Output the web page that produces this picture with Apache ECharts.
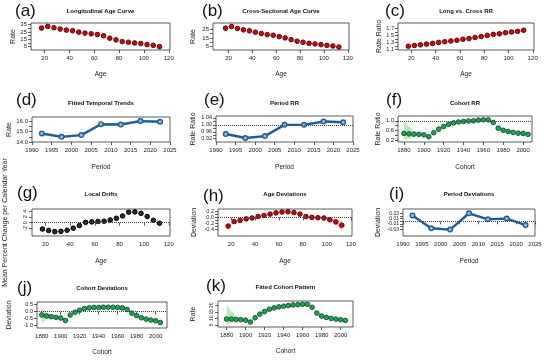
<!DOCTYPE html>
<html><head><meta charset="utf-8">
<script src="https://cdn.jsdelivr.net/npm/echarts@6/dist/echarts.min.js"></script>
<style>html,body{margin:0;padding:0;background:#fff}#c{width:550px;height:360px}</style>
</head><body><div id="c"></div>
<script>
// ---------- data ----------
const ageGroups = [17.5,22.5,27.5,32.5,37.5,42.5,47.5,52.5,57.5,62.5,67.5,72.5,77.5,82.5,87.5,92.5,97.5,102.5,107.5,112.5];
const periodMid = [1992.5,1997.5,2002.5,2007.5,2012.5,2017.5,2022.5];
const cohortMid = [1880,1885,1890,1895,1900,1905,1910,1915,1920,1925,1930,1935,1940,1945,1950,1955,1960,1965,1970,1975,1980,1985,1990,1995,2000,2005];

const ageTicks = [20,40,60,80,100,120];
const periodTicks = [1990,1995,2000,2005,2010,2015,2020,2025];
const cohortTicks = [1880,1900,1920,1940,1960,1980,2000];

const longAgeRate = [30.4,32.7,30.8,29.0,27.6,26.7,24.8,23.5,22.5,21.6,19.8,16.5,14.2,11.9,11.0,10.0,9.2,7.8,6.8,5.0];
const crossAgeRate = [26.1,28.0,25.8,24.2,23.1,21.5,20.0,18.8,18.0,16.5,15.0,13.0,11.2,10.0,8.8,8.1,7.3,6.5,5.8,4.6];
const longCrossRR = [1.19,1.21,1.23,1.25,1.27,1.30,1.32,1.34,1.36,1.39,1.41,1.44,1.47,1.50,1.53,1.55,1.58,1.60,1.62,1.65];
const longCrossLo = [1.175,1.195,1.215,1.235,1.255,1.284,1.303,1.322,1.341,1.37,1.389,1.417,1.445,1.473,1.50,1.517,1.544,1.56,1.575,1.60];
const longCrossHi = [1.205,1.225,1.245,1.265,1.285,1.316,1.337,1.358,1.379,1.41,1.431,1.463,1.495,1.527,1.56,1.583,1.616,1.64,1.665,1.70];

const fittedTrend = [14.83,14.50,14.67,15.73,15.70,16.03,15.97];
const fittedTrendLo = [14.70,14.38,14.55,15.60,15.57,15.90,15.84];
const fittedTrendHi = [14.96,14.62,14.79,15.86,15.83,16.16,16.10];

const periodRR = [0.947,0.924,0.935,1.000,1.000,1.019,1.015];
const periodRRLo = [0.940,0.917,0.928,0.995,0.994,1.012,1.008];
const periodRRHi = [0.954,0.931,0.942,1.005,1.006,1.026,1.022];

const cohortRR = [0.47,0.45,0.44,0.43,0.41,0.33,0.50,0.65,0.76,0.85,0.91,0.95,0.97,0.99,1.00,1.03,1.04,1.04,0.93,0.69,0.60,0.55,0.51,0.48,0.47,0.43];
const cohortRRLo = [0.18,0.27,0.34,0.38,0.38,0.31,0.48,0.63,0.74,0.83,0.89,0.93,0.95,0.97,0.98,1.01,1.02,1.02,0.91,0.67,0.58,0.53,0.49,0.46,0.45,0.41];
const cohortRRHi = [1.02,0.76,0.58,0.49,0.45,0.35,0.52,0.67,0.78,0.87,0.93,0.97,0.99,1.01,1.02,1.05,1.06,1.06,0.95,0.71,0.62,0.57,0.53,0.50,0.49,0.45];

const localDrifts = [-2.2,-2.7,-3.1,-3.0,-2.6,-1.9,-1.0,0.1,0.25,0.4,0.5,0.9,1.5,2.3,3.6,3.7,3.2,2.1,0.8,-0.2];

const ageDev = [-0.29,-0.14,-0.10,-0.05,-0.02,0.03,0.065,0.11,0.15,0.18,0.19,0.16,0.11,0.03,0.0,-0.01,-0.02,-0.08,-0.15,-0.26];
const ageDevLo = [-0.32,-0.16,-0.115,-0.06,-0.03,0.02,0.055,0.10,0.14,0.17,0.18,0.15,0.10,0.02,-0.01,-0.025,-0.04,-0.12,-0.23,-0.45];
const ageDevHi = [-0.26,-0.12,-0.085,-0.04,-0.01,0.04,0.075,0.12,0.16,0.19,0.20,0.17,0.12,0.04,0.01,0.005,0.0,-0.04,-0.07,-0.10];

const periodDev = [0.022,-0.026,-0.031,0.030,0.0075,0.010,-0.014];
const periodDevLo = [0.018,-0.030,-0.035,0.026,0.0035,0.006,-0.018];
const periodDevHi = [0.026,-0.022,-0.027,0.034,0.0115,0.014,-0.010];

const cohortDev = [-0.25,-0.32,-0.37,-0.42,-0.47,-0.65,-0.25,-0.05,0.10,0.22,0.27,0.30,0.30,0.32,0.32,0.32,0.30,0.27,0.15,-0.12,-0.30,-0.45,-0.55,-0.62,-0.67,-0.80];
const cohortDevLo = [-0.85,-0.60,-0.50,-0.47,-0.50,-0.68,-0.28,-0.08,0.07,0.19,0.24,0.27,0.27,0.29,0.29,0.29,0.27,0.24,0.12,-0.15,-0.33,-0.48,-0.58,-0.65,-0.70,-0.84];
const cohortDevHi = [0.30,-0.05,-0.25,-0.37,-0.44,-0.62,-0.22,-0.02,0.13,0.25,0.30,0.33,0.33,0.35,0.35,0.35,0.33,0.30,0.18,-0.09,-0.27,-0.42,-0.52,-0.59,-0.64,-0.76];

const fittedCohort = [9.4,9.4,9.1,8.9,8.6,7.1,10.4,13.2,15.2,17.0,18.0,18.8,19.3,19.8,20.3,20.5,20.8,20.8,18.5,14.0,11.7,10.7,9.9,9.4,8.9,8.4];
const fittedCohortLo = [5.0,6.5,7.8,8.4,8.3,6.9,10.2,13.0,15.0,16.8,17.8,18.6,19.1,19.6,20.1,20.3,20.6,20.6,18.3,13.8,11.5,10.5,9.7,9.2,8.7,8.2];
const fittedCohortHi = [20.5,15.5,11.5,9.8,8.9,7.3,10.6,13.4,15.4,17.2,18.2,19.0,19.5,20.0,20.5,20.7,21.0,21.0,18.7,14.2,11.9,10.9,10.1,9.6,9.1,8.6];

// ---------- helpers ----------
const FONT = '"Liberation Sans", Arial, sans-serif';
const TXT = '#222';
const grids = [], xAxes = [], yAxes = [], series = [], titles = [], graphics = [];

const RED = {fill:'#b5121b', border:'#6b0000', band:'rgba(240,120,145,0.45)'};
const BLUE = {fill:'#8dbbe3', border:'#1f5f94', band:'rgba(120,170,225,0.45)'};
const GREEN = {fill:'#2a9d5a', border:'#0b5e2e', band:'rgba(150,215,140,0.6)'};
const BLACK = {fill:'#2a2a2a', border:'#000'};

function band(i, xs, lo, hi, color) {
  series.push({
    type:'custom', xAxisIndex:i, yAxisIndex:i, silent:true, z:1, clip:true,
    data: xs.map((x, k) => [x, lo[k], hi[k]]),
    encode:{x:0, y:[1,2]},
    renderItem: (params, api) => {
      if (params.dataIndex !== 0) return null;
      const top = [], bot = [];
      for (let k = 0; k < xs.length; k++) {
        top.push(api.coord([xs[k], hi[k]]));
        bot.push(api.coord([xs[k], lo[k]]));
      }
      return {type:'polygon', shape:{points: top.concat(bot.reverse())}, style:{fill:color}};
    }
  });
}

function panel(p) {
  const i = grids.length;
  const [L, T, W, H] = p.box;
  grids.push({left:L, top:T, width:W, height:H, show:true, borderColor:'#333', borderWidth:0.8,
    backgroundColor:'transparent', outerBoundsMode:'none'});
  xAxes.push({gridIndex:i, type:'value', min:p.x[0], max:p.x[1],
    axisLine:{show:false}, splitLine:{show:false},
    axisTick:{show:true, length:3, lineStyle:{color:'#333', width:0.8}, customValues:p.xt},
    axisLabel:{customValues:p.xt, fontSize:6, color:TXT, margin:5, fontFamily:FONT, hideOverlap:false,
      formatter:(v) => String(v)},
    name:p.xname, nameLocation:'middle', nameGap:p.xgap || 21,
    nameTextStyle:{fontSize:6.5, color:TXT, fontFamily:FONT}});
  yAxes.push({gridIndex:i, type:'value', min:p.y[0], max:p.y[1],
    axisLine:{show:false}, splitLine:{show:false},
    axisTick:{show:true, length:3, lineStyle:{color:'#333', width:0.8}, customValues:p.yticks},
    axisLabel:{customValues:p.ylabels, fontSize:p.ylabSize || 6, color:TXT, margin:4, fontFamily:FONT,
      hideOverlap:false, rotate:p.yrot || 0, formatter:(v) => p.fmt(v)},
    name:p.yname, nameLocation:'middle', nameGap:p.ygap, nameRotate:90,
    nameTextStyle:{fontSize:p.ynameSize || 7, color:TXT, fontFamily:FONT}});
  titles.push({text:p.title, left:L + W / 2, top:p.titleTop, textAlign:'center', padding:0,
    textStyle:{fontSize:6, fontWeight:'bold', color:'#111', fontFamily:FONT}});
  graphics.push({type:'text', left:p.letter[0], top:p.letter[1],
    style:{text:p.letterText, fontSize:17, fill:'#111', fontFamily:FONT}});
  return i;
}

function refMark(v) {
  return {silent:true, symbol:'none', label:{show:false}, animation:false,
    lineStyle:{type:'dotted', color:'#444', width:1}, data:[{yAxis:v}]};
}
function points(i, xs, ys, col, refLine) {
  const s = {type:'scatter', xAxisIndex:i, yAxisIndex:i, z:3, symbol:'circle', symbolSize:4.6,
    data: xs.map((x, k) => [x, ys[k]]),
    itemStyle:{color:col.fill, borderColor:col.border, borderWidth:1, opacity:1}};
  if (refLine !== undefined) s.markLine = refMark(refLine);
  series.push(s);
}
function linePts(i, xs, ys, col, refLine) {
  const s = {type:'line', xAxisIndex:i, yAxisIndex:i, z:3, symbol:'circle', symbolSize:4.6, showSymbol:true,
    data: xs.map((x, k) => [x, ys[k]]),
    lineStyle:{color:col.border, width:2.4},
    itemStyle:{color:col.fill, borderColor:col.border, borderWidth:1.4}};
  if (refLine !== undefined) s.markLine = refMark(refLine);
  series.push(s);
}
const f0 = v => String(v), f1 = v => v.toFixed(1), f2 = v => v.toFixed(2);

// ---------- panels ----------
let i;
// (a)
i = panel({box:[31,23,139,27], x:[9,121], xt:ageTicks, y:[0.4,37.3], yticks:[5,10,15,20,25,30,35], ylabels:[5,15,25,35],
  fmt:f0, yname:'Rate', ygap:14, xname:'Age', xgap:21, title:'Longitudinal Age Curve', titleTop:8, letter:[15,3], letterText:'(a)'});
points(i, ageGroups, longAgeRate, RED);
// (b)
i = panel({box:[213,23,136,27], x:[7,121], xt:ageTicks, y:[1.2,32], yticks:[5,10,15,20,25], ylabels:[5,15,25],
  fmt:f0, yname:'Rate', ygap:16, xname:'Age', xgap:21, title:'Cross-Sectional Age Curve', titleTop:8, letter:[202,3], letterText:'(b)'});
points(i, ageGroups, crossAgeRate, RED);
// (c)
i = panel({box:[398,23,136,27], x:[9,121], xt:ageTicks, y:[1.08,1.86], yticks:[1.1,1.2,1.3,1.4,1.5,1.6,1.7], ylabels:[1.1,1.3,1.5,1.7],
  fmt:f1, ylabSize:5.5, yname:'Rate Ratio', ygap:15, xname:'Age', xgap:21, title:'Long vs. Cross RR', titleTop:8, letter:[385,3], letterText:'(c)'});
band(i, ageGroups, longCrossLo, longCrossHi, RED.band);
points(i, ageGroups, longCrossRR, RED);
// (d)
i = panel({box:[32,117,138,25], x:[1990,2025], xt:periodTicks, y:[14.0,16.43], yticks:[14.0,14.5,15.0,15.5,16.0], ylabels:[14.0,15.0,16.0],
  fmt:f1, yname:'Rate', ygap:19, xname:'Period', xgap:22, title:'Fitted Temporal Trends', titleTop:100, letter:[16,92], letterText:'(d)'});
band(i, periodMid, fittedTrendLo, fittedTrendHi, BLUE.band);
linePts(i, periodMid, fittedTrend, BLUE);
// (e)
i = panel({box:[216,116,137,26], x:[1990,2025], xt:periodTicks, y:[0.901,1.051], yticks:[0.92,0.94,0.96,0.98,1.00,1.02,1.04], ylabels:[0.92,0.96,1.00,1.04],
  fmt:f2, ylabSize:5.5, yname:'Rate Ratio', ygap:19, xname:'Period', xgap:22, title:'Period RR', titleTop:100, letter:[204,92], letterText:'(e)'});
band(i, periodMid, periodRRLo, periodRRHi, BLUE.band);
linePts(i, periodMid, periodRR, BLUE, 1.0);
// (f)
i = panel({box:[398,116,134,26], x:[1874,2009], xt:cohortTicks, y:[0.11,1.2], yticks:[0.2,0.4,0.6,0.8,1.0], ylabels:[0.2,0.6,1.0],
  fmt:f1, yname:'Rate Ratio', ygap:15, xname:'Cohort', xgap:22, title:'Cohort RR', titleTop:100, letter:[386,92], letterText:'(f)'});
band(i, cohortMid, cohortRRLo, cohortRRHi, GREEN.band);
points(i, cohortMid, cohortRR, GREEN, 1.0);
// (g)
i = panel({box:[32,209,138,27], x:[9,121], xt:ageTicks, y:[-4.6,4.7], yticks:[-2,0,2,4], ylabels:[-2,0,2,4], yrot:90,
  fmt:f0, ylabSize:5.5, yname:'Mean Percent Change per Calendar Year', ynameSize:7, ygap:23, xname:'Age', xgap:22,
  title:'Local Drifts', titleTop:191, letter:[17,185], letterText:'(g)'});
points(i, ageGroups, localDrifts, BLACK, 0);
// (h)
i = panel({box:[218,209,134,27], x:[9,121], xt:ageTicks, y:[-0.62,0.28], yticks:[-0.4,-0.3,-0.2,-0.1,0.0,0.1,0.2], ylabels:[-0.4,-0.2,0.0,0.2],
  fmt:f1, ylabSize:5.5, yname:'Deviation', ygap:20, xname:'Age', xgap:22, title:'Age Deviations', titleTop:191, letter:[203,188], letterText:'(h)'});
band(i, ageGroups, ageDevLo, ageDevHi, RED.band);
points(i, ageGroups, ageDev, RED, 0);
// (i)
i = panel({box:[403,209,132,27], x:[1990,2025], xt:periodTicks, y:[-0.055,0.046], yticks:[-0.03,-0.02,-0.01,0,0.01,0.02,0.03], ylabels:[-0.03,-0.01,0.01,0.03],
  fmt:f2, ylabSize:5, yname:'Deviation', ygap:21, xname:'Period', xgap:22, title:'Period Deviations', titleTop:191, letter:[389,186], letterText:'(i)'});
band(i, periodMid, periodDevLo, periodDevHi, BLUE.band);
linePts(i, periodMid, periodDev, BLUE, 0);
// (j)
i = panel({box:[37,302,130,26], x:[1875,2012], xt:cohortTicks, y:[-1.2,0.7], yticks:[-1.0,-0.5,0.0,0.5], ylabels:[-1.0,-0.5,0.0,0.5],
  fmt:f1, ylabSize:5.5, yname:'Deviation', ygap:24, xname:'Cohort', xgap:21, title:'Cohort Deviations', titleTop:285, letter:[17,280], letterText:'(j)'});
band(i, cohortMid, cohortDevLo, cohortDevHi, GREEN.band);
points(i, cohortMid, cohortDev, GREEN, 0);
// (k)
i = panel({box:[218,301,135,26], x:[1871,2013], xt:cohortTicks, y:[3.3,23.3], yticks:[5,10,15,20], ylabels:[5,10,15,20], yrot:90,
  fmt:f0, ylabSize:5, yname:'Rate', ygap:21, xname:'Cohort', xgap:21, title:'Fitted Cohort Pattern', titleTop:284, letter:[206,278], letterText:'(k)'});
band(i, cohortMid, fittedCohortLo, fittedCohortHi, GREEN.band);
points(i, cohortMid, fittedCohort, GREEN);

const chart = echarts.init(document.getElementById('c'), null, {renderer:'canvas'});
chart.setOption({
  animation:false,
  backgroundColor:'#fff',
  title: titles,
  grid: grids,
  xAxis: xAxes,
  yAxis: yAxes,
  series: series,
  graphic: graphics
});
</script>
</body></html>
